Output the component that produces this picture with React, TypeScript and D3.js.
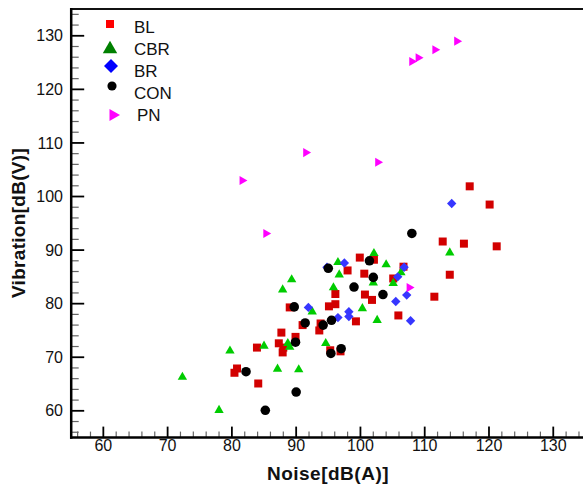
import React from 'react';
import * as d3 from 'd3';

const W = 583;
const H = 485;

// [noise dB(A), vibration dB(V)]
const BL = [
  [117.0, 101.9], [120.1, 98.5], [112.8, 91.6], [116.1, 91.2], [121.2, 90.7],
  [113.9, 85.4], [111.5, 81.3], [99.9, 88.6], [102.1, 88.2], [98.0, 86.2],
  [106.7, 86.9], [105.1, 84.7], [100.6, 85.6], [96.1, 81.8], [100.7, 81.7],
  [101.8, 80.7], [96.1, 79.9], [95.1, 79.5], [89.0, 79.3], [105.9, 77.8],
  [99.3, 76.7], [93.8, 76.3], [91.0, 76.0], [93.6, 75.0], [87.7, 74.6],
  [89.9, 73.8], [87.3, 72.6], [88.0, 71.8], [87.9, 70.9], [83.9, 71.8],
  [95.3, 71.3], [96.9, 71.1], [80.8, 67.9], [80.4, 67.1], [84.1, 65.1],
];

const CBR = [
  [102.1, 89.4], [113.9, 89.5], [96.5, 87.7], [104.0, 87.3], [96.7, 85.4],
  [106.3, 85.8], [89.3, 84.5], [102.0, 83.9], [105.1, 83.8], [87.9, 82.6],
  [95.8, 83.0], [100.3, 79.1], [92.5, 78.5], [102.6, 76.9], [94.6, 72.6],
  [88.7, 72.6], [89.0, 71.9], [85.0, 72.1], [79.7, 71.2], [87.1, 67.8],
  [90.4, 67.7], [72.3, 66.3], [78.0, 60.1],
];

const BR = [
  [114.2, 98.7], [97.5, 87.6], [94.8, 86.8], [106.8, 86.8], [105.8, 85.0],
  [107.2, 81.6], [105.5, 80.4], [91.9, 79.3], [98.2, 78.5], [98.2, 77.6],
  [96.5, 77.4], [107.8, 76.8],
];

const CON = [
  [108.0, 93.1], [101.4, 88.0], [95.0, 86.6], [102.0, 84.9], [99.0, 83.1],
  [103.5, 81.7], [89.7, 79.4], [91.4, 76.4], [95.5, 76.9], [94.2, 76.0],
  [89.9, 72.8], [97.0, 71.6], [95.4, 70.7], [82.2, 67.3], [90.0, 63.5],
  [85.2, 60.1],
];

const PN = [
  [115.0, 129.0], [111.6, 127.4], [109.0, 125.9], [108.0, 125.2], [91.5, 108.2],
  [102.7, 106.4], [81.6, 103.0], [85.3, 93.1], [107.6, 83.0],
];

const X_TICKS = [60, 70, 80, 90, 100, 110, 120, 130];
const Y_TICKS = [60, 70, 80, 90, 100, 110, 120, 130];

// series styling: marker type, fill for points, fill in legend, sizes
const SERIES = [
  { name: 'BL', data: BL, type: d3.symbolSquare, rot: 0, fill: '#d20000', legendFill: '#ff0000', size: 64, legendSize: 64 },
  { name: 'CBR', data: CBR, type: d3.symbolTriangle, rot: 0, fill: '#00cc00', legendFill: '#008000', size: 38, legendSize: 90 },
  { name: 'BR', data: BR, type: d3.symbolSquare, rot: 45, fill: '#3636ff', legendFill: '#0000ff', size: 44, legendSize: 98 },
  { name: 'CON', data: CON, type: d3.symbolCircle, rot: 0, fill: '#000000', legendFill: '#000000', size: 72, legendSize: 66 },
  { name: 'PN', data: PN, type: d3.symbolTriangle, rot: 90, fill: '#ff00ff', legendFill: '#ff00ff', size: 36, legendSize: 64 },
];

const FONT = 'Arial, "Liberation Sans", Helvetica, sans-serif';

export default function App() {
  const x = d3.scaleLinear().domain([55, 135]).range([71.2, 585.4]);
  const y = d3.scaleLinear().domain([55, 135]).range([437.6, 9]);

  const minorX = d3.range(56, 135, 2).filter(v => v % 10 !== 0);
  const minorY = d3.range(56, 135, 2).filter(v => v % 10 !== 0);

  const x0 = x(55);
  const y0 = y(55);
  const yTop = y(135);

  // legend rows: marker centre, text centre
  const legendRows = [
    { mx: 110, my: 24, tx: 134, ty: 27 },
    { mx: 110, my: 49, tx: 134, ty: 49 },
    { mx: 111, my: 66, tx: 134, ty: 71 },
    { mx: 112, my: 86, tx: 134, ty: 93 },
    { mx: 113, my: 115, tx: 137, ty: 115 },
  ];

  return (
    <svg
      width={W}
      height={H}
      style={{ position: 'absolute', left: 0, top: 0, background: '#fff' }}
      fontFamily={FONT}
    >
      <rect x={0} y={0} width={W} height={H} fill="#fff" />

      {/* minor ticks */}
      {minorX.map(v => (
        <line key={'mx' + v} x1={x(v)} x2={x(v)} y1={y0} y2={y0 - 6} stroke="#666" strokeWidth={1.2} />
      ))}
      {minorY.map(v => (
        <line key={'my' + v} x1={x0} x2={x0 + 7.5} y1={y(v)} y2={y(v)} stroke="#666" strokeWidth={1.2} />
      ))}
      {/* major ticks */}
      {X_TICKS.map(v => (
        <line key={'Mx' + v} x1={x(v)} x2={x(v)} y1={y0} y2={y0 - 11} stroke="#000" strokeWidth={1.8} />
      ))}
      {Y_TICKS.map(v => (
        <line key={'My' + v} x1={x0} x2={x0 + 13} y1={y(v)} y2={y(v)} stroke="#000" strokeWidth={1.8} />
      ))}

      {/* frame */}
      <line x1={x0} x2={W + 5} y1={yTop} y2={yTop} stroke="#111" strokeWidth={2} />
      <line x1={x0} x2={x0} y1={yTop - 1} y2={y0 + 1.2} stroke="#000" strokeWidth={2.5} />
      <line x1={x0 - 1.2} x2={W + 5} y1={y0} y2={y0} stroke="#000" strokeWidth={2.5} />

      {/* tick labels */}
      {X_TICKS.map(v => (
        <text key={'lx' + v} x={x(v)} y={451} textAnchor="middle" fontSize={16} fill="#111">{v}</text>
      ))}
      {Y_TICKS.map(v => (
        <text key={'ly' + v} x={63} y={y(v)} dy="0.35em" textAnchor="end" fontSize={16} fill="#111">{v}</text>
      ))}

      {/* axis titles */}
      <text x={328} y={480} textAnchor="middle" fontSize={19} fontWeight="bold" fill="#111" letterSpacing={0.5}>
        Noise[dB(A)]
      </text>
      <text
        transform={`translate(25,223) rotate(-90)`}
        textAnchor="middle"
        fontSize={19}
        fontWeight="bold"
        fill="#111"
        letterSpacing={0.3}
      >
        Vibration[dB(V)]
      </text>

      {/* points */}
      {SERIES.map(s => {
        const path = d3.symbol().type(s.type).size(s.size)();
        return (
          <g key={s.name}>
            {s.data.map((d, i) => (
              <path
                key={i}
                d={path || ''}
                transform={`translate(${x(d[0])},${y(d[1])}) rotate(${s.rot})`}
                fill={s.fill}
              />
            ))}
          </g>
        );
      })}

      {/* legend */}
      {SERIES.map((s, i) => {
        const r = legendRows[i];
        const path = d3.symbol().type(s.type).size(s.legendSize)();
        return (
          <g key={'lg' + s.name}>
            <path d={path || ''} transform={`translate(${r.mx},${r.my}) rotate(${s.rot})`} fill={s.legendFill} />
            <text x={r.tx} y={r.ty} dy="0.36em" fontSize={17} fill="#111">{s.name}</text>
          </g>
        );
      })}
    </svg>
  );
}
